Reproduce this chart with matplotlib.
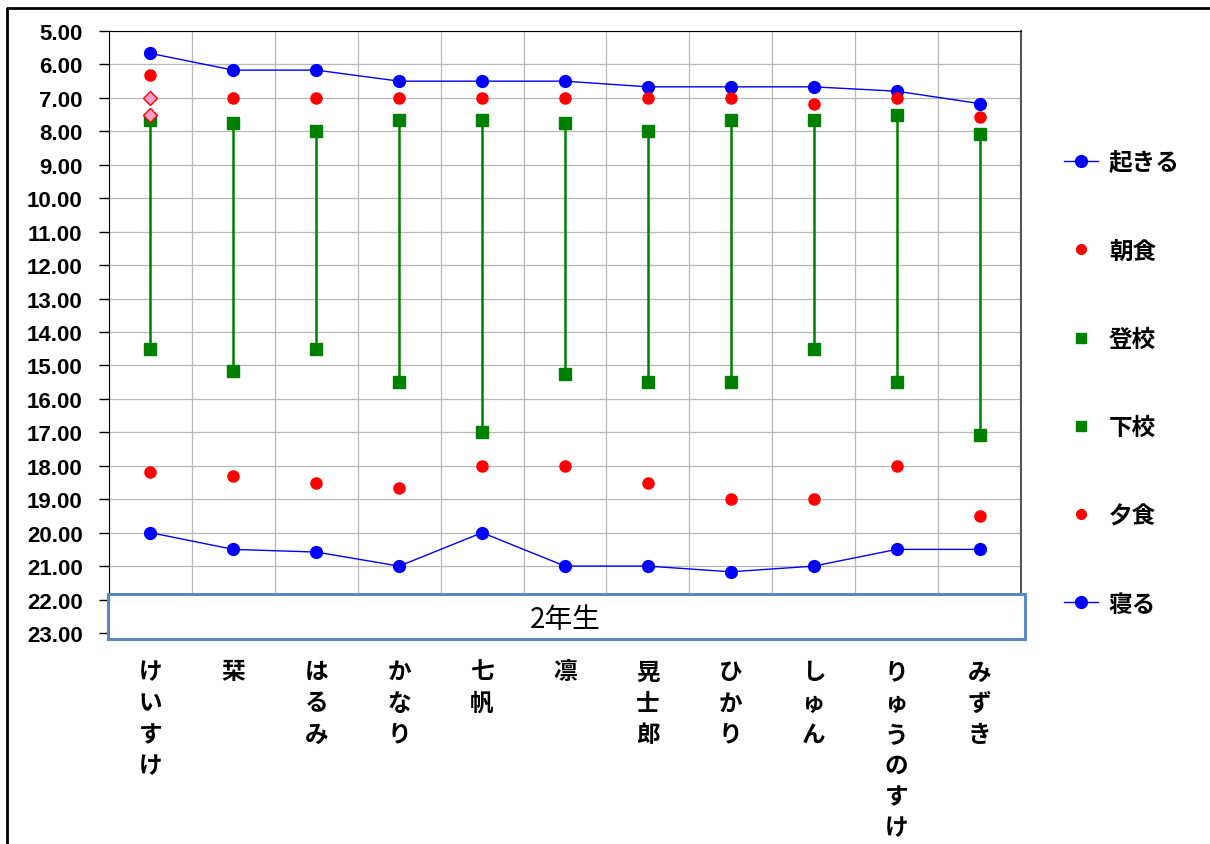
import matplotlib.pyplot as plt
import numpy as np
from matplotlib.lines import Line2D
from matplotlib.patches import Rectangle

plt.rcParams['font.family'] = ['Liberation Sans', 'Noto Sans CJK JP']

# データ(時刻は10進の時間)
names = ['けいすけ', '栞', 'はるみ', 'かなり', '七帆', '凛', '晃士郎', 'ひかり', 'しゅん', 'りゅうのすけ', 'みずき']
wake = [5.67, 6.17, 6.17, 6.5, 6.5, 6.5, 6.67, 6.67, 6.67, 6.8, 7.17]
breakfast = [6.33, 7.0, 7.0, 7.0, 7.0, 7.0, 7.0, 7.0, 7.17, 7.0, 7.58]
school_in = [7.67, 7.75, 8.0, 7.67, 7.67, 7.75, 8.0, 7.67, 7.67, 7.5, 8.08]
school_out = [14.5, 15.17, 14.5, 15.5, 17.0, 15.25, 15.5, 15.5, 14.5, 15.5, 17.08]
dinner = [18.2, 18.3, 18.5, 18.67, 18.0, 18.0, 18.5, 19.0, 19.0, 18.0, 19.5]
sleep = [20.0, 20.5, 20.58, 21.0, 20.0, 21.0, 21.0, 21.17, 21.0, 20.5, 20.5]
extra_x = [0, 0]            # けいすけの追加点
extra_y = [7.0, 7.5]
group_label = '2年生'

W, H = 1210, 845
fig = plt.figure(figsize=(W / 100, H / 100), dpi=100)
ax = fig.add_axes([109 / W, 1 - 634 / H, (1021 - 109) / W, (634 - 32) / H])

x = np.arange(len(names))
blue, red, green = '#0000ff', '#ff0000', '#008000'

ax.vlines(x, school_in, school_out, color=green, lw=1.8, zorder=3)
ax.plot(x, wake, color=blue, lw=1, marker='o', ms=8.5, mec=blue, zorder=4)
ax.plot(x, breakfast, ls='none', marker='o', ms=8, color=red, zorder=5)
ax.plot(extra_x, extra_y, ls='none', marker='D', ms=7, mfc='#ff9ecb', mec=red, mew=1, zorder=6)
ax.plot(x, school_in, ls='none', marker='s', ms=8, color=green, zorder=4)
ax.plot(x, school_out, ls='none', marker='s', ms=8, color=green, zorder=4)
ax.plot(x, dinner, ls='none', marker='o', ms=8, color=red, zorder=5)
ax.plot(x, sleep, color=blue, lw=1, marker='o', ms=8.5, mec=blue, zorder=4)

ax.set_xlim(-0.5, len(names) - 0.5)
ax.set_ylim(23, 5)
ax.set_yticks(np.arange(5, 24))
ax.set_yticklabels([f'{v:.2f}' for v in np.arange(5, 24)], fontsize=16, fontweight='bold')
ax.tick_params(axis='y', direction='out', length=7, width=1, pad=12)

ax.set_xticks(x)
ax.set_xticklabels(['\n'.join(n) for n in names], fontsize=17, fontweight='bold',
                   family=['Noto Sans CJK JP'], linespacing=1.38, va='top')
ax.set_xticks(np.arange(-0.5, len(names)), minor=True)
ax.tick_params(axis='x', which='both', length=0, pad=19)

ax.grid(True, axis='y', color='#b8b8b8', lw=0.9)
ax.grid(True, axis='x', which='minor', color='#b8b8b8', lw=0.9)
ax.set_axisbelow(True)
for s in ['left', 'top']:
    ax.spines[s].set_color('black')
ax.spines['right'].set_color('#555555')
ax.spines['right'].set_linewidth(1.5)

# 学年ラベルの枠
box = Rectangle((108 / W, 1 - 640 / H), (1025 - 108) / W, 45 / H, transform=fig.transFigure,
                facecolor='white', edgecolor='#5a88c4', lw=2.2, zorder=10)
fig.add_artist(box)
fig.text((109 + 1021) / 2 / W, 1 - 620 / H, group_label, ha='center', va='center', fontsize=20,
         family=['Noto Sans CJK JP'], zorder=11)

# 外枠
fig.add_artist(Line2D([7 / W, 7 / W, 1.01], [-0.01, 1 - 9 / H, 1 - 9 / H],
                      transform=fig.transFigure, color='black', lw=2))

handles = [
    Line2D([], [], color=blue, lw=1, marker='o', ms=8.5),
    Line2D([], [], ls='none', marker='o', ms=7, color=red),
    Line2D([], [], ls='none', marker='s', ms=7, color=green),
    Line2D([], [], ls='none', marker='s', ms=7, color=green),
    Line2D([], [], ls='none', marker='o', ms=7, color=red),
    Line2D([], [], color=blue, lw=1, marker='o', ms=8.5),
]
labels = ['起きる', '朝食', '登校', '下校', '夕食', '寝る']
fig.legend(handles, labels, loc='center left', bbox_to_anchor=(1064 / W, 1 - 384 / H),
           frameon=False, borderpad=0, borderaxespad=0, labelspacing=2.72, handlelength=1.45,
           handletextpad=0.45, prop={'family': ['Noto Sans CJK JP'], 'weight': 'bold', 'size': 17})

fig.savefig('out.png', dpi=100)
